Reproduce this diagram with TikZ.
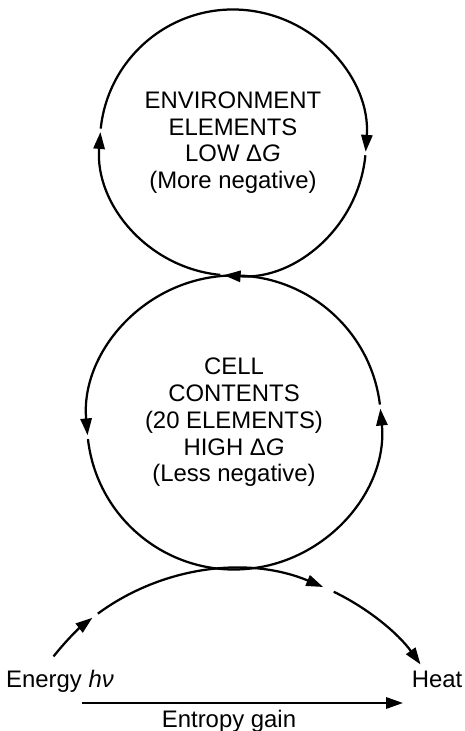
\documentclass[tikz,border=0pt]{standalone}
\usepackage{fontspec}
\setmainfont{Liberation Sans}
\usetikzlibrary{arrows.meta}

\begin{document}
\begin{tikzpicture}[x=0.25cm, y=0.25cm, line width=1.6pt,
		flow/.style={-{Triangle[length=12pt,width=8pt]}},
		txt/.style={font=\fontsize{17}{19}\selectfont, align=center},
		]
	\useasboundingbox (0,0) rectangle (46.4,73.1);
	% circle centres
	\coordinate (env) at (23.3,58.85);
	\coordinate (cell) at (23.4,30.85);
	\coordinate (bow) at (23.4,-6.8);
	% environment circle, clockwise
	\draw[flow, shift={(env)}] (174:13.3) arc[start angle=174, end angle=-4, radius=13.3];
	\draw[flow, shift={(env)}] (-5.5:13.3) arc[start angle=-5.5, end angle=-94, radius=13.3];
	\draw[flow, shift={(env)}] (-95.5:13.3) arc[start angle=-95.5, end angle=-184.5, radius=13.3];
	\node [txt] (envtext) at (env) {ENVIRONMENT\\ELEMENTS\\LOW Δ\textit{G}\\(More negative)};
	% cell circle, counterclockwise
	\draw[flow, shift={(cell)}] (7:14.7) arc[start angle=7, end angle=185, radius=14.7];
	\draw[flow, shift={(cell)}] (186.5:14.7) arc[start angle=186.5, end angle=365.4, radius=14.7];
	\node [txt] (celltext) at (cell) {CELL\\CONTENTS\\(20 ELEMENTS)\\HIGH Δ\textit{G}\\(Less negative)};
	% energy flow underneath
	\draw[flow, shift={(bow)}] (141.7:23) arc[start angle=141.7, end angle=128, radius=23];
	\draw[flow, shift={(bow)}] (126.3:23) arc[start angle=126.3, end angle=67.2, radius=23];
	\draw[flow, shift={(bow)}] (64.3:23) arc[start angle=64.3, end angle=35.8, radius=23];
	\node [txt, anchor=base] (hv) at (6.0,4.3) {Energy \textit{hν}};
	\node [txt, anchor=base] (heat) at (43.7,4.3) {Heat};
	% entropy
	\coordinate (ent0) at (8.2,2.8);
	\coordinate (ent1) at (40.3,2.8);
	\draw[flow] (ent0) -- (ent1);
	\node [txt, anchor=base] (gain) at (22.9,0.3) {Entropy gain};
\end{tikzpicture}
\end{document}
